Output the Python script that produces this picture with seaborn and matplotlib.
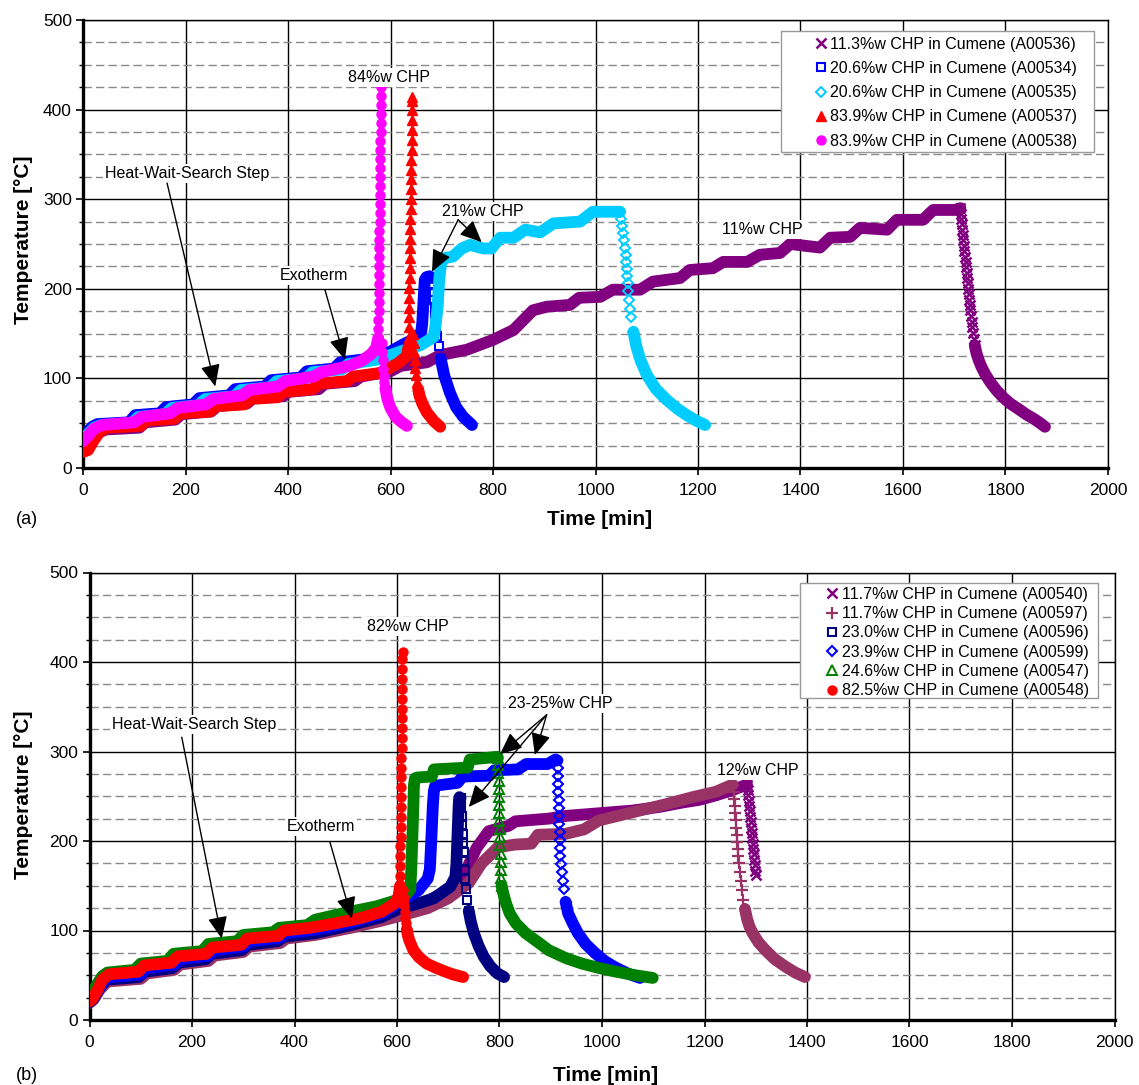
import numpy as np
import matplotlib
matplotlib.use("Agg")
import matplotlib.pyplot as plt
import seaborn as sns
from matplotlib.lines import Line2D
from matplotlib.patches import Rectangle
from matplotlib.ticker import MultipleLocator

# ---------------- (a) runs: (time [min], temperature [°C]) ----------------
A00536 = [(0, 24), (8, 26), (20, 33), (32, 40), (45, 43), (110, 45), (122, 51), (180, 54), (192, 60),
          (250, 63), (262, 69), (320, 72), (332, 78), (390, 80), (402, 85), (460, 88), (472, 94),
          (530, 97), (542, 102), (600, 108), (620, 114), (671, 118), (697, 126), (749, 132), (800, 143),
          (840, 154), (878, 176), (905, 180), (950, 182), (968, 190), (1009, 191), (1034, 199),
          (1087, 199), (1112, 208), (1165, 212), (1184, 221), (1229, 223), (1249, 230), (1296, 230),
          (1321, 238), (1360, 240), (1380, 250), (1438, 246), (1458, 257), (1497, 258), (1516, 268),
          (1569, 266), (1588, 277), (1639, 277), (1659, 288), (1705, 288), (1712, 290),
          (1713, 284), (1714, 278), (1715, 272), (1716, 266), (1717, 260), (1718, 254), (1719, 248),
          (1720, 242), (1721, 236), (1722, 230), (1723, 224), (1724, 218), (1725, 212), (1726, 206),
          (1727, 200), (1728, 194), (1729, 188), (1730, 182), (1731, 176), (1732, 170), (1734, 163),
          (1735, 157), (1736, 151), (1738, 144), (1740, 137), (1743, 129), (1748, 120), (1753, 113),
          (1760, 105), (1770, 96), (1782, 87), (1795, 79), (1809, 72), (1825, 66), (1840, 60),
          (1855, 55), (1868, 50), (1877, 46)]

A00534 = [(0, 35), (8, 40), (18, 46), (28, 49), (90, 51), (102, 59), (150, 61), (162, 68), (215, 71),
          (227, 78), (285, 81), (297, 88), (355, 91), (367, 98), (425, 101), (437, 108), (490, 111),
          (502, 118), (560, 122), (600, 130), (625, 138), (650, 145), (660, 152),
          (662, 162), (663, 172), (664, 182), (665, 192), (666, 202), (667, 210),
          (670, 213), (676, 214), (682, 212),
          (683, 204), (684, 196), (685, 188), (686, 180), (687, 172), (688, 164), (689, 156),
          (691, 147), (694, 136), (698, 122), (705, 103), (716, 84), (728, 68), (742, 57), (759, 48)]

A00535 = [(0, 32), (10, 38), (22, 45), (35, 48), (95, 50), (108, 57), (160, 60), (173, 67), (225, 70),
          (238, 77), (295, 80), (308, 87), (365, 90), (378, 97), (435, 100), (448, 107), (505, 110),
          (518, 116), (575, 121), (619, 130), (658, 137), (684, 146),
          (688, 160), (690, 170), (692, 180), (693, 190), (694, 200), (695, 210), (697, 220), (699, 229),
          (703, 234), (722, 236), (739, 245), (755, 249), (781, 245), (797, 245), (814, 257),
          (840, 257), (863, 266), (892, 263), (918, 273), (970, 275), (995, 286), (1048, 286),
          (1050, 278), (1052, 270), (1054, 262), (1056, 254), (1058, 246), (1059, 238), (1060, 230),
          (1061, 222), (1062, 214), (1063, 206), (1064, 198), (1066, 188), (1068, 178), (1070, 168),
          (1074, 152), (1080, 135), (1088, 120), (1100, 104), (1118, 88), (1139, 76), (1160, 66),
          (1178, 59), (1196, 53), (1214, 48)]

A00537 = [(0, 18), (10, 20), (20, 30), (32, 40), (45, 45), (112, 47), (124, 53), (178, 55), (190, 61),
          (248, 63), (260, 69), (315, 71), (327, 77), (380, 79), (392, 85), (448, 88), (460, 94),
          (515, 97), (527, 102), (580, 106), (615, 117), (632, 125),
          (635.0, 135), (635.3, 146), (635.6, 157), (635.9, 168), (636.2, 179), (636.5, 190),
          (636.8, 201), (637.1, 212), (637.4, 223), (637.7, 234), (638.0, 245), (638.3, 256),
          (638.6, 267), (638.9, 278), (639.2, 289), (639.5, 300), (639.8, 311), (640.1, 322),
          (640.4, 333), (640.7, 344), (641.0, 355), (641.3, 366), (641.6, 377), (641.9, 388),
          (642.2, 399), (642.5, 410), (642.6, 414),
          (644, 150), (645, 140), (646, 130), (647, 121), (648, 112), (650, 104), (652, 96),
          (654, 88), (657, 80), (662, 72), (671, 62), (685, 52), (697, 46)]

A00538 = [(0, 30), (10, 36), (22, 44), (38, 48), (100, 51), (115, 57), (170, 61), (185, 67), (240, 71),
          (255, 77), (310, 81), (325, 87), (380, 91), (395, 97), (450, 102), (465, 107), (520, 114),
          (545, 120), (562, 127), (572, 134),
          (576.0, 145), (576.2, 155), (576.4, 165), (576.6, 175), (576.8, 185), (577.0, 195),
          (577.2, 205), (577.4, 215), (577.6, 225), (577.8, 235), (578.0, 245), (578.2, 255),
          (578.4, 265), (578.6, 275), (578.8, 285), (579.0, 295), (579.2, 305), (579.4, 315),
          (579.6, 325), (579.8, 335), (580.0, 345), (580.2, 355), (580.4, 365), (580.6, 375),
          (580.8, 385), (581.0, 395), (581.2, 405), (581.4, 415), (581.6, 425), (581.8, 432),
          (583, 140), (584, 130), (585, 120), (586, 111), (587, 103), (588, 96), (590, 89),
          (592, 83), (594, 77), (597, 72), (600, 67), (610, 57), (622, 51), (632, 47)]

# ---------------- (b) runs: (time [min], temperature [°C]) ----------------
A00540 = [(0, 20), (8, 24), (20, 35), (35, 44), (98, 47), (110, 53), (163, 57), (175, 63), (230, 67),
          (242, 73), (298, 77), (310, 83), (370, 87), (382, 92), (440, 96), (500, 103), (560, 111),
          (603, 120), (650, 130), (700, 145), (733, 165), (755, 192), (779, 211), (818, 217),
          (831, 222), (896, 225), (929, 228), (994, 231), (1059, 234), (1111, 238), (1157, 243),
          (1190, 246), (1222, 251), (1255, 257), (1283, 263),
          (1284, 257), (1285, 251), (1286, 245), (1287, 239), (1288, 233), (1289, 227), (1290, 221),
          (1291, 215), (1292, 209), (1293, 203), (1294, 197), (1295, 191), (1296, 185), (1297, 179),
          (1298, 173), (1299, 167), (1300, 162)]

A00597 = [(0, 19), (8, 23), (20, 34), (35, 43), (100, 46), (112, 52), (165, 56), (177, 62), (232, 66),
          (244, 72), (300, 76), (312, 82), (372, 86), (384, 91), (440, 95), (510, 103), (570, 111),
          (610, 117), (660, 125), (700, 136), (740, 153), (765, 175), (797, 193), (830, 196),
          (862, 197), (875, 207), (929, 208), (965, 213), (994, 223), (1059, 232), (1124, 241),
          (1177, 249), (1222, 255), (1255, 263),
          (1257, 255), (1258, 247), (1259, 239), (1260, 231), (1261, 223), (1262, 215), (1263, 207),
          (1264, 199), (1265, 191), (1266, 183), (1267, 175), (1269, 165), (1271, 155), (1273, 145),
          (1276, 134), (1279, 124), (1283, 113), (1288, 104), (1294, 97), (1305, 87), (1319, 78),
          (1337, 68), (1357, 60), (1377, 53), (1396, 48)]

A00596 = [(0, 20), (8, 24), (20, 36), (33, 45), (96, 48), (108, 54), (162, 58), (174, 64), (227, 68),
          (239, 74), (297, 78), (309, 84), (367, 88), (379, 93), (440, 97), (510, 106), (570, 115),
          (603, 124), (640, 130), (672, 136), (704, 149), (714, 160),
          (716, 175), (718, 205), (720, 235), (721, 246), (722, 249), (724, 248),
          (725, 238), (726, 228), (727, 218), (728, 208), (729, 198), (730, 188), (731, 178),
          (732, 168), (733, 158), (735, 146), (737, 134), (740, 122), (744, 110), (750, 97),
          (759, 83), (769, 71), (782, 60), (796, 52), (809, 48)]

A00599 = [(0, 22), (8, 26), (18, 35), (28, 44), (40, 48), (100, 51), (112, 58), (165, 62), (177, 68),
          (232, 72), (244, 78), (300, 82), (312, 88), (372, 92), (384, 97), (440, 101), (510, 109),
          (570, 119), (603, 131), (642, 145), (660, 158),
          (664, 168), (666, 190), (668, 215), (670, 240), (672, 256), (674, 261),
          (678, 262), (718, 265), (728, 272), (780, 273), (790, 279), (836, 280), (852, 286),
          (894, 286), (909, 291), (913, 290),
          (914, 282), (914, 273), (915, 264), (915, 255), (916, 246), (916, 237), (917, 228),
          (917, 219), (918, 210), (918, 201), (919, 192), (919, 183), (920, 174), (921, 165),
          (923, 155), (925, 146), (929, 132), (934, 119), (943, 108), (953, 97), (968, 85),
          (986, 75), (1005, 66), (1025, 59), (1050, 52), (1074, 47)]

A00547 = [(0, 27), (6, 31), (15, 40), (25, 49), (35, 53), (88, 56), (100, 63), (152, 66), (164, 74),
          (220, 77), (232, 85), (288, 88), (300, 95), (358, 98), (370, 103), (425, 106), (440, 112),
          (500, 120), (560, 127), (600, 134), (618, 140), (626, 146),
          (628, 170), (630, 205), (632, 240), (633, 262), (635, 270),
          (640, 271), (668, 272), (672, 280), (738, 282), (742, 291), (795, 294), (797, 293),
          (798, 285), (798, 276), (799, 267), (799, 258), (799, 249), (800, 240), (800, 231),
          (800, 222), (801, 213), (801, 204), (801, 195), (802, 186), (802, 177), (803, 168),
          (803, 159), (804, 150), (808, 140), (813, 130), (820, 119), (832, 108), (851, 97),
          (875, 87), (896, 78), (930, 69), (961, 63), (995, 58), (1027, 54), (1065, 50), (1099, 47)]

A00548 = [(0, 21), (6, 24), (15, 33), (25, 45), (38, 51), (95, 54), (107, 61), (160, 64), (172, 71),
          (228, 74), (240, 81), (296, 84), (308, 91), (368, 94), (380, 100), (430, 103), (480, 108),
          (530, 114), (570, 121), (595, 130), (603, 138),
          (606.0, 150), (606.2, 161), (606.4, 172), (606.6, 183), (606.8, 194), (607.0, 205),
          (607.2, 216), (607.4, 227), (607.6, 238), (607.8, 249), (608.0, 260), (608.2, 271),
          (608.4, 282), (608.6, 293), (608.8, 304), (609.0, 315), (609.2, 326), (609.4, 337),
          (609.6, 348), (609.8, 359), (610.0, 370), (610.2, 381), (610.4, 392), (610.6, 403),
          (610.8, 411),
          (612, 145), (613, 136), (614, 128), (615, 121), (616, 114), (617, 108), (619, 101),
          (621, 95), (624, 89), (632, 78), (643, 70), (658, 63), (673, 59), (690, 55), (709, 51),
          (729, 48)]

labels_a = ["11.3%w CHP in Cumene (A00536)", "20.6%w CHP in Cumene (A00534)",
            "20.6%w CHP in Cumene (A00535)", "83.9%w CHP in Cumene (A00537)",
            "83.9%w CHP in Cumene (A00538)"]
labels_b = ["11.7%w CHP in Cumene (A00540)", "11.7%w CHP in Cumene (A00597)",
            "23.0%w CHP in Cumene (A00596)", "23.9%w CHP in Cumene (A00599)",
            "24.6%w CHP in Cumene (A00547)", "82.5%w CHP in Cumene (A00548)"]

# ---------------- styling ----------------
sns.set_style("white")
plt.rcParams["font.family"] = ["Liberation Sans", "DejaVu Sans"]
for key in ("text.color", "axes.labelcolor", "xtick.color", "ytick.color", "axes.edgecolor"):
    plt.rcParams[key] = "black"

# marker style per run: colour, marker, size, edge width, hollow
STYLE = {
    "A00536": ("#800080", "x", 7.0, 1.8, False),
    "A00534": ("#0000ff", "s", 6.0, 1.5, True),
    "A00535": ("#00ccff", "D", 5.5, 1.4, True),
    "A00537": ("#ff0000", "^", 7.0, 1.0, False),
    "A00538": ("#ff00ff", "o", 6.5, 1.0, False),
    "A00540": ("#800080", "x", 7.0, 1.8, False),
    "A00597": ("#993366", "+", 9.0, 1.6, False),
    "A00596": ("#000080", "s", 6.0, 1.5, True),
    "A00599": ("#0000ff", "D", 5.5, 1.5, True),
    "A00547": ("#008000", "^", 7.0, 1.4, True),
    "A00548": ("#ff0000", "o", 6.5, 1.0, False),
}

SPIKE_RATE = 25.0   # °C/min: runaway readings are shown one by one
QUENCH_RATE = 3.0   # °C/min: fast cooling readings are shown one by one


def draw_run(ax, pts, name, z):
    color, marker, ms, mew, hollow = STYLE[name]
    t = np.array([p[0] for p in pts], float)
    T = np.array([p[1] for p in pts], float)
    dT, dt = np.diff(T), np.diff(t)
    fast = (np.abs(dT) > SPIKE_RATE * dt) | (-dT > QUENCH_RATE * dt)
    n = len(t)
    # densely logged readings merge into a thick trace
    i = 0
    while i < n - 1:
        if fast[i]:
            i += 1
            continue
        j = i
        while j < n - 1 and not fast[j]:
            j += 1
        sns.lineplot(x=t[i:j + 1], y=T[i:j + 1], sort=False, estimator=None, color=color,
                     linewidth=8.5, solid_capstyle="round", solid_joinstyle="round",
                     zorder=z, ax=ax, legend=False)
        i = j
    # individual readings during the runaway and the quench
    sel = np.zeros(n, bool)
    sel[:-1] |= fast
    sel[1:] |= fast
    if sel.any():
        sns.lineplot(x=t[sel], y=T[sel], sort=False, estimator=None, color=color,
                     linestyle="none", marker=marker, markersize=ms, markeredgewidth=mew,
                     markeredgecolor=color, markerfacecolor="none" if hollow else color,
                     zorder=z + 0.5, ax=ax, legend=False)


def setup(ax):
    ax.set_xlim(0, 2000)
    ax.set_ylim(0, 500)
    ax.xaxis.set_major_locator(MultipleLocator(200))
    ax.yaxis.set_major_locator(MultipleLocator(100))
    ax.yaxis.set_minor_locator(MultipleLocator(25))
    ax.set_axisbelow(True)
    ax.grid(which="major", color="black", linewidth=1.0, linestyle="-")
    ax.grid(which="minor", axis="y", color="#8a8a8a", linewidth=1.0, linestyle=(0, (6, 3)))
    for side in ("left", "bottom"):
        ax.spines[side].set_linewidth(2.4)
        ax.spines[side].set_color("black")
    for side in ("top", "right"):
        ax.spines[side].set_linewidth(1.0)
        ax.spines[side].set_color("black")
    ax.tick_params(which="major", direction="out", length=5, width=1.2, labelsize=12.5,
                   bottom=True, left=True)
    ax.tick_params(axis="x", pad=6)
    ax.tick_params(axis="y", pad=3)
    ax.tick_params(which="minor", axis="y", direction="out", length=3, width=1.0, left=True)
    ax.set_xlabel("Time [min]", fontsize=15, fontweight="bold")
    ax.set_ylabel("Temperature [°C]", fontsize=15, fontweight="bold")


def note(ax, x, y, s):
    ax.text(x, y, s, fontsize=11.5, ha="left", va="center", zorder=19,
            bbox=dict(boxstyle="square,pad=0.12", fc="white", ec="none"))


def arrow(ax, tail, head):
    ax.annotate("", xy=head, xytext=tail, zorder=20,
                arrowprops=dict(arrowstyle="-|>,head_length=0.9,head_width=0.4",
                                mutation_scale=15, color="black", lw=1.0,
                                shrinkA=0, shrinkB=0))


def legend_box(ax, names, labels, anchor, frame, spacing):
    handles = []
    for nm in names:
        color, marker, ms, mew, hollow = STYLE[nm]
        handles.append(Line2D([], [], linestyle="none", marker=marker, markersize=ms,
                              markeredgewidth=mew, markeredgecolor=color,
                              markerfacecolor="none" if hollow else color))
    leg = ax.legend(handles, labels, loc="upper left", bbox_to_anchor=anchor, frameon=False,
                    borderpad=0, borderaxespad=0, handlelength=0.8, handletextpad=0.2,
                    labelspacing=spacing, fontsize=11.5)
    leg.set_zorder(31)
    x0, y0, x1, y1 = frame
    ax.add_patch(Rectangle((x0, y0), x1 - x0, y1 - y0, transform=ax.transAxes,
                           fc="white", ec="#9a9a9a", lw=1.0, zorder=30))


fig = plt.figure(figsize=(11.39, 10.85), dpi=100)
W, H = 1139, 1085
ax_a = fig.add_axes([83 / W, 1 - 468 / H, 1025 / W, 448 / H])
ax_b = fig.add_axes([89.5 / W, 1 - 1020 / H, 1025 / W, 447.5 / H])

# ---- panel (a) ----
setup(ax_a)
names_a = ["A00536", "A00534", "A00535", "A00537", "A00538"]
runs_a = [A00536, A00534, A00535, A00537, A00538]
for k, (nm, pts) in enumerate(zip(names_a, runs_a)):
    draw_run(ax_a, pts, nm, 3 + k)
note(ax_a, 517, 436, "84%w CHP")
note(ax_a, 43, 329, "Heat-Wait-Search Step")
note(ax_a, 384, 215, "Exotherm")
note(ax_a, 700, 286, "21%w CHP")
note(ax_a, 1247, 266, "11%w CHP")
arrow(ax_a, (164, 318), (258, 91))
arrow(ax_a, (472, 199), (511, 121))
arrow(ax_a, (732, 277), (681, 219))
arrow(ax_a, (732, 277), (778, 252))
legend_box(ax_a, names_a, labels_a, (0.7136, 0.963),
           (0.681, 0.7054, 0.9863, 0.9754), 0.58)
ax_a.xaxis.set_label_coords(0.504, -0.114)
ax_a.xaxis.label.set_va("center")
ax_a.yaxis.set_label_coords(-0.0585, 0.509)
ax_a.yaxis.label.set_va("center")

# ---- panel (b) ----
setup(ax_b)
names_b = ["A00540", "A00597", "A00596", "A00599", "A00547", "A00548"]
runs_b = [A00540, A00597, A00596, A00599, A00547, A00548]
for k, (nm, pts) in enumerate(zip(names_b, runs_b)):
    draw_run(ax_b, pts, nm, 3 + k)
note(ax_b, 542, 440, "82%w CHP")
note(ax_b, 44, 330, "Heat-Wait-Search Step")
note(ax_b, 385, 216, "Exotherm")
note(ax_b, 817, 354, "23-25%w CHP")
note(ax_b, 1224, 279, "12%w CHP")
arrow(ax_b, (180, 316), (258, 91))
arrow(ax_b, (469, 199), (512, 113))
arrow(ax_b, (892, 341), (801, 297))
arrow(ax_b, (892, 341), (869, 296))
arrow(ax_b, (892, 341), (740, 238))
legend_box(ax_b, names_b, labels_b, (0.7182, 0.968),
           (0.6932, 0.7196, 0.9839, 0.9765), 0.27)
ax_b.xaxis.set_label_coords(0.503, -0.123)
ax_b.xaxis.label.set_va("center")
ax_b.yaxis.set_label_coords(-0.064, 0.503)
ax_b.yaxis.label.set_va("center")

fig.text(27 / W, 1 - 520 / H, "(a)", fontsize=13, ha="center", va="center")
fig.text(27 / W, 1 - 1075 / H, "(b)", fontsize=13, ha="center", va="center")

fig.savefig("out.png", dpi=100)
